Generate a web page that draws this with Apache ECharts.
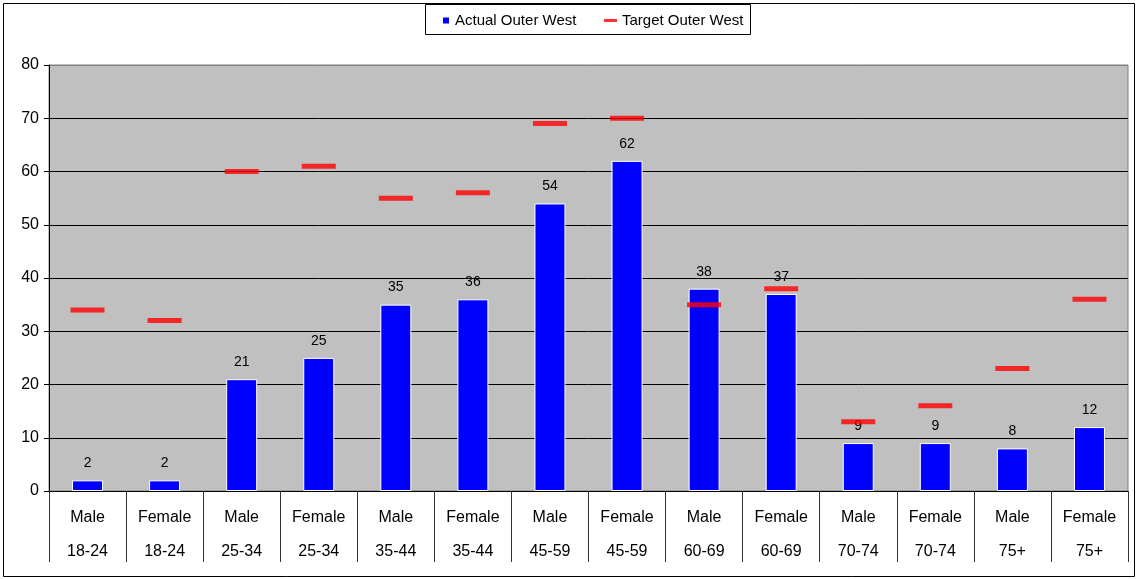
<!DOCTYPE html>
<html lang="en">
<head>
    <meta charset="UTF-8">
    <title>Actual vs Target Outer West</title>
    <script src="https://cdn.jsdelivr.net/npm/echarts@6/dist/echarts.min.js"></script>
</head>
<style>
    html, body { margin: 0; padding: 0; background: #fff; }
    #chart { width: 1138px; height: 579px; }
</style>
<body>
<div id="chart"></div>
<script>
    var genders = ['Male', 'Female', 'Male', 'Female', 'Male', 'Female', 'Male', 'Female', 'Male', 'Female', 'Male', 'Female', 'Male', 'Female'];
    var ageBands = ['18-24', '18-24', '25-34', '25-34', '35-44', '35-44', '45-59', '45-59', '60-69', '60-69', '70-74', '70-74', '75+', '75+'];
    var actual = [2, 2, 21, 25, 35, 36, 54, 62, 38, 37, 9, 9, 8, 12];
    var target = [34, 32, 60, 61, 55, 56, 69, 70, 35, 38, 13, 16, 23, 36];
    var yTicks = [0, 10, 20, 30, 40, 50, 60, 70, 80];

    var categories = [];
    for (var i = 0; i < genders.length; i++) {
        categories.push(genders[i] + '\n' + ageBands[i]);
    }
    var font = 'Arial, "Liberation Sans", sans-serif';

    var chart = echarts.init(document.getElementById('chart'));
    chart.setOption({
        animation: false,
        textStyle: {fontFamily: font},
        graphic: [
            {type: 'rect', shape: {x: 3.5, y: 3.5, width: 1131, height: 573},
                style: {fill: 'none', stroke: '#000', lineWidth: 1}, z: -1},
            {type: 'rect', shape: {x: 425.5, y: 4.5, width: 325, height: 30},
                style: {fill: '#fff', stroke: '#000', lineWidth: 1}, z: -1}
        ],
        legend: [
            {data: ['Actual Outer West'], left: 436, top: 8, icon: 'rect',
                itemWidth: 8, itemHeight: 8, itemGap: 0,
                textStyle: {fontSize: 15, color: '#000', fontFamily: font}},
            {data: ['Target Outer West'], left: 599, top: 8, icon: 'rect',
                itemWidth: 13, itemHeight: 3, itemGap: 0,
                textStyle: {fontSize: 15, color: '#000', fontFamily: font}}
        ],
        grid: {
            left: 49, right: 10, top: 65, bottom: 88,
            show: true, backgroundColor: '#C0C0C0', borderColor: '#808080', borderWidth: 1
        },
        xAxis: {
            type: 'category',
            data: categories,
            axisLine: {lineStyle: {color: '#000'}},
            axisTick: {show: true, length: 71, lineStyle: {color: '#333'}, interval: 0},
            axisLabel: {interval: 0, fontSize: 16, color: '#000', lineHeight: 34, margin: 10}
        },
        yAxis: {
            type: 'value',
            min: yTicks[0], max: yTicks[yTicks.length - 1], interval: 10,
            axisLine: {show: true, lineStyle: {color: '#000'}},
            axisTick: {show: true, length: 5, lineStyle: {color: '#000'}},
            axisLabel: {fontSize: 16, color: '#000', margin: 10},
            splitLine: {show: true, lineStyle: {
                color: ['#000', '#000', '#000', '#000', '#000', '#000', '#000', '#000', '#808080'], width: 1}}
        },
        series: [
            {
                name: 'Actual Outer West',
                type: 'bar',
                data: actual,
                barWidth: 31,
                itemStyle: {color: '#0000FF', borderColor: '#fff', borderWidth: 1},
                label: {show: true, position: 'top', distance: 10, fontSize: 14, color: '#000'},
                z: 2
            },
            {
                name: 'Target Outer West',
                type: 'scatter',
                data: target,
                symbol: 'rect',
                symbolSize: [34, 5],
                itemStyle: {color: '#FF0000'},
                z: 3
            }
        ]
    });
</script>
</body>
</html>
